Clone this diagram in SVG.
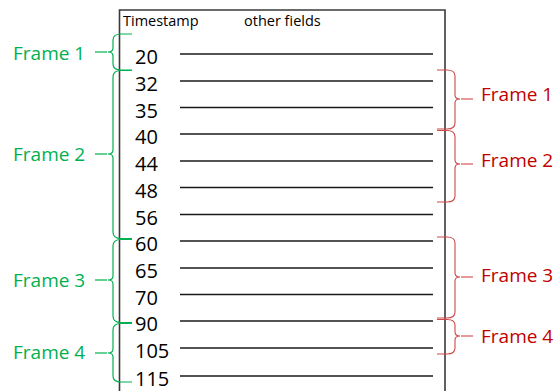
<svg xmlns="http://www.w3.org/2000/svg" width="554" height="391" viewBox="0 0 554 391">
<style>
.hdr{font-family:"Open Sans","Liberation Sans",sans-serif;font-size:14.5px;fill:#000}
.num{font-family:"Open Sans","Liberation Sans",sans-serif;font-size:20px;fill:#000}
.row{stroke:#1a1a1a;stroke-width:1.3}
.gl{font-family:"Open Sans","Liberation Sans",sans-serif;font-size:19px;fill:#00B050}
.rl{font-family:"Open Sans","Liberation Sans",sans-serif;font-size:19px;fill:#C00000}
.gb{fill:none;stroke:#00B050;stroke-width:1.2}
.rb{fill:none;stroke:#D04848;stroke-width:1.1}
</style>
<rect width="554" height="391" fill="#fff"/>
<g id="table">
<path d="M119.5,391 L119.5,10 L445,10 L445,391" fill="none" stroke="#3a3a3a" stroke-width="1.6"/>
<text class="hdr" x="123" y="26">Timestamp</text>
<text class="hdr" x="244" y="26">other fields</text>
</g>
<g id="rows">
<line class="row" x1="180" y1="54" x2="433" y2="54"/><text class="num" x="135" y="64">20</text>
<line class="row" x1="180" y1="81" x2="433" y2="81"/><text class="num" x="135" y="91">32</text>
<line class="row" x1="180" y1="107.5" x2="433" y2="107.5"/><text class="num" x="135" y="117.5">35</text>
<line class="row" x1="180" y1="134" x2="433" y2="134"/><text class="num" x="135" y="144">40</text>
<line class="row" x1="180" y1="161" x2="433" y2="161"/><text class="num" x="135" y="171">44</text>
<line class="row" x1="180" y1="187.5" x2="433" y2="187.5"/><text class="num" x="135" y="197.5">48</text>
<line class="row" x1="180" y1="214.5" x2="433" y2="214.5"/><text class="num" x="135" y="224.5">56</text>
<line class="row" x1="180" y1="241" x2="433" y2="241"/><text class="num" x="135" y="251">60</text>
<line class="row" x1="180" y1="268" x2="433" y2="268"/><text class="num" x="135" y="278">65</text>
<line class="row" x1="180" y1="294.5" x2="433" y2="294.5"/><text class="num" x="135" y="304.5">70</text>
<line class="row" x1="180" y1="321" x2="433" y2="321"/><text class="num" x="135" y="331">90</text>
<line class="row" x1="180" y1="348" x2="433" y2="348"/><text class="num" x="135" y="358">105</text>
<line class="row" x1="180" y1="376" x2="433" y2="376"/><text class="num" x="135" y="386">115</text>
</g>
<g id="green-frames">
<g id="g-frame1">
<path class="gb" d="M132,34 L121,34 Q113,34 113,40 L113,48 Q113,52 108,52 Q113,52 113,56 L113,64 Q113,70 121,70 L132,70"/>
<line class="gb" x1="95" y1="52" x2="107" y2="52"/>
<text class="gl" x="13" y="60">Frame 1</text>
</g>
<g id="g-frame2">
<path class="gb" d="M132,70.5 L121,70.5 Q113,70.5 113,77 L113,150 Q113,154 108,154 Q113,154 113,158 L113,232 Q113,238.5 121,238.5 L132,238.5"/>
<line class="gb" x1="95" y1="154" x2="107" y2="154"/>
<text class="gl" x="13" y="161">Frame 2</text>
</g>
<g id="g-frame3">
<path class="gb" d="M132,239.5 L121,239.5 Q113,239.5 113,246 L113,276 Q113,280 108,280 Q113,280 113,284 L113,316 Q113,322.5 121,322.5 L132,322.5"/>
<line class="gb" x1="95" y1="280" x2="107" y2="280"/>
<text class="gl" x="13" y="287">Frame 3</text>
</g>
<g id="g-frame4">
<path class="gb" d="M132,323.5 L121,323.5 Q113,323.5 113,330 L113,349 Q113,353 108,353 Q113,353 113,357 L113,376 Q113,382 121,382 L132,382"/>
<line class="gb" x1="95" y1="353" x2="107" y2="353"/>
<text class="gl" x="13" y="359">Frame 4</text>
</g>
</g>
<g id="red-frames">
<g id="r-frame1">
<path class="rb" d="M437,70 L447,70 Q455,70 455,76 L455,95 Q455,99 460,99 Q455,99 455,103 L455,123 Q455,129 447,129 L437,129"/>
<line class="rb" x1="461" y1="99" x2="473" y2="99"/>
<text class="rl" x="481" y="101">Frame 1</text>
</g>
<g id="r-frame2">
<path class="rb" d="M437,130.5 L447,130.5 Q455,130.5 455,137 L455,160 Q455,164 460,164 Q455,164 455,168 L455,196 Q455,202 447,202 L437,202"/>
<line class="rb" x1="461" y1="164" x2="473" y2="164"/>
<text class="rl" x="481" y="167">Frame 2</text>
</g>
<g id="r-frame3">
<path class="rb" d="M437,237 L447,237 Q455,237 455,243 L455,273 Q455,277 460,277 Q455,277 455,281 L455,312 Q455,318 447,318 L437,318"/>
<line class="rb" x1="461" y1="277" x2="473" y2="277"/>
<text class="rl" x="481" y="282">Frame 3</text>
</g>
<g id="r-frame4">
<path class="rb" d="M437,319.5 L447,319.5 Q455,319.5 455,325 L455,332 Q455,336 460,336 Q455,336 455,340 L455,348 Q455,354 447,354 L437,354"/>
<line class="rb" x1="461" y1="336" x2="473" y2="336"/>
<text class="rl" x="481" y="343">Frame 4</text>
</g>
</g>
</svg>
